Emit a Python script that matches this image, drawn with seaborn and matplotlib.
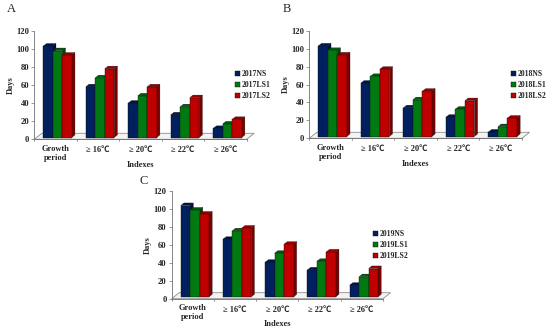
import matplotlib
matplotlib.use('Agg')
import matplotlib.pyplot as plt
import pandas as pd
import seaborn as sns
from matplotlib.patches import Polygon

# categories
indexes = ['Growth\nperiod', '≥ 16℃', '≥ 20℃', '≥ 22℃', '≥ 26℃']

# values
ns_2017 = [101, 56, 38, 25, 10]
ls1_2017 = [96, 66, 46, 34, 15]
ls2_2017 = [91, 76, 56, 44, 20]

ns_2018 = [101, 59.5, 32, 21.5, 5]
ls1_2018 = [96, 67, 41, 30.5, 11]
ls2_2018 = [91, 75, 50.5, 40, 20.5]

ns_2019 = [101.5, 64, 38.5, 30, 13]
ls1_2019 = [96.5, 73.5, 48.5, 39.5, 22.5]
ls2_2019 = [92, 76.5, 58.5, 50, 31.5]

colors = ['#00205f', '#007a10', '#c00000']
tops = ['#001648', '#005a0c', '#9a0000']
sides = ['#000f38', '#004008', '#7a0000']

sns.set_theme(style='white')
plt.rcParams['font.family'] = ['Liberation Serif', 'Noto Sans CJK SC', 'DejaVu Sans']
plt.rcParams['font.weight'] = 'bold'

W, H = 550, 330
fig = plt.figure(figsize=(5.5, 3.3), dpi=100)


def draw_panel(box, letter, letter_xy, year, series, legend_xy):
    left, right, top, bottom = box
    ax = fig.add_axes([left / W, 1 - bottom / H, (right - left) / W, (bottom - top) / H])
    names = [f'{year}NS', f'{year}LS1', f'{year}LS2']
    df = pd.DataFrame({
        'Index': indexes * 3,
        'Group': [n for n in names for _ in indexes],
        'Days': series[0] + series[1] + series[2],
    })
    sns.barplot(data=df, x='Index', y='Days', hue='Group', ax=ax, palette=colors,
                width=0.67, gap=0, saturation=1, edgecolor='#101010', linewidth=0.3, zorder=3)
    ax.set_xlim(-0.5, 4.5)
    ax.set_ylim(0, 120)

    # units for 1 px
    ux = 5 / (right - left)
    uy = 120 / (bottom - top)

    # floor of the fake 3D chart
    fx, fy = 7.5 * ux, 6 * uy
    ax.add_patch(Polygon([(-0.5, 0), (-0.5 + fx, fy), (4.5 + fx, fy), (4.5, 0)], closed=True,
                         facecolor='#f4f4f4', edgecolor='#8c8c8c', linewidth=0.6,
                         clip_on=False, zorder=1))

    # shift bars onto the floor and add side and top faces
    dx, dy = 3.2 * ux, 2.6 * uy
    for c, container in enumerate(ax.containers):
        for bar in container:
            bar.set_x(bar.get_x() + 2 * ux)
            bar.set_y(1.8 * uy)
            x0, x1 = bar.get_x(), bar.get_x() + bar.get_width()
            y0, y1 = bar.get_y(), bar.get_y() + bar.get_height()
            z = 3 + c * 0.1
            bar.set_zorder(z + 0.05)
            ax.add_patch(Polygon([(x1, y0), (x1 + dx, y0 + dy), (x1 + dx, y1 + dy), (x1, y1)], closed=True,
                                 facecolor=sides[c], edgecolor='#101010', linewidth=0.2, zorder=z))
            ax.add_patch(Polygon([(x0, y1), (x0 + dx, y1 + dy), (x1 + dx, y1 + dy), (x1, y1)], closed=True,
                                 facecolor=tops[c], edgecolor='#101010', linewidth=0.2, zorder=z))

    sns.despine(ax=ax)
    for s in ['left', 'bottom']:
        ax.spines[s].set_color('#707070')
        ax.spines[s].set_linewidth(0.6)
    n = len(indexes)
    ax.set_yticks(range(0, 121, 20))
    ax.set_xticks(range(n))
    ax.set_xticklabels([])
    ax.tick_params(axis='y', left=True, length=2, width=0.5, color='#707070', labelsize=6.2, pad=1.5)
    ax.tick_params(axis='x', bottom=False)
    # labels placed by hand, the CJK fallback font makes the tick label box too tall
    for x, lab in enumerate(indexes):
        if '\n' in lab:
            first, second = lab.split('\n')
            ax.annotate(first, (x, 0), xytext=(0, -7), textcoords='offset points', ha='center', va='center',
                        fontsize=6, fontweight='bold', annotation_clip=False)
            ax.annotate(second, (x, 0), xytext=(0, -13.5), textcoords='offset points', ha='center', va='center',
                        fontsize=6, fontweight='bold', annotation_clip=False)
        else:
            ax.annotate(lab, (x, 0), xytext=(0, -8), textcoords='offset points', ha='center', va='center',
                        fontsize=6, fontweight='bold', annotation_clip=False)
    # ticks between the categories
    for x in range(n + 1):
        ax.plot([x - 0.5, x - 0.5], [0, -2 * uy], color='#707070', lw=0.5, clip_on=False)
    ax.set_xlim(-0.5, 4.5)
    ax.set_ylim(0, 120)
    ax.set_xlabel('')
    ax.annotate('Indexes', (2, 0), xytext=(0, -18.5), textcoords='offset points', ha='center', va='center',
                fontsize=6, fontweight='bold', annotation_clip=False)
    ax.set_ylabel('Days', fontsize=6, fontweight='bold', labelpad=1.5)

    sns.move_legend(ax, 'center left', bbox_to_anchor=((legend_xy[0] - left) / (right - left),
                                                       (bottom - legend_xy[1]) / (bottom - top)),
                    frameon=False, title=None, fontsize=5.6, handlelength=0.65, handleheight=0.65,
                    handletextpad=0.25, labelspacing=0.4, borderpad=0, borderaxespad=0)

    fig.text(letter_xy[0] / W, 1 - letter_xy[1] / H, letter, fontsize=9, fontweight='normal',
             ha='left', va='center')


draw_panel((34.3, 246.7, 30.7, 139.3), 'A', (7, 9.5), 2017, [ns_2017, ls1_2017, ls2_2017], (235, 85))
draw_panel((309.3, 522, 30.7, 138.3), 'B', (282.5, 9.5), 2018, [ns_2018, ls1_2018, ls2_2018], (510.5, 85))
draw_panel((171.7, 383, 190.7, 298.7), 'C', (140, 181), 2019, [ns_2019, ls1_2019, ls2_2019], (373, 245))

fig.savefig('out.png', dpi=100)
